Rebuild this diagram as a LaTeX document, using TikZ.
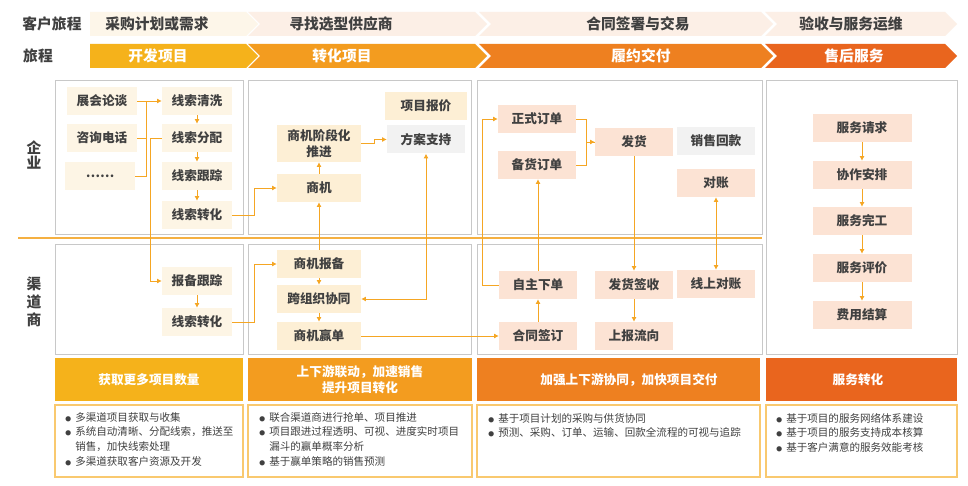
\documentclass[tikz,border=0pt]{standalone}
\usepackage{fontspec}
\setmainfont{Noto Sans CJK SC}
\usetikzlibrary{arrows.meta}
\definecolor{JText}{HTML}{404040}
\definecolor{JLine}{HTML}{F5A623}
\definecolor{JPanel}{HTML}{C8C8C8}
\definecolor{JPale}{HTML}{FDF6E9}
\definecolor{JPink}{HTML}{FCEFE6}
\definecolor{JYellow}{HTML}{F5B21B}
\definecolor{JAmber}{HTML}{F39C1F}
\definecolor{JOrange}{HTML}{EE8020}
\definecolor{JRed}{HTML}{E9651E}
\definecolor{JCream}{HTML}{FDF5E5}
\definecolor{JSand}{HTML}{FDEFD5}
\definecolor{JPeach}{HTML}{FCE3D4}
\definecolor{JGrey}{HTML}{F2F2F2}
\definecolor{JFrame}{HTML}{F9C96F}
\definecolor{JRule}{HTML}{F5B041}

\tikzset{
  lbl/.style={font=\fontsize{9}{11}\selectfont\bfseries,text=JText,inner sep=0pt,minimum height=7mm,align=center},
  leadbox/.style={lbl,fill=JCream,minimum width=17.5mm},
  dealbox/.style={lbl,fill=JSand,minimum width=21mm},
  orderbox/.style={lbl,fill=JPeach,minimum width=19.5mm},
  servbox/.style={lbl,fill=JPeach,minimum width=24.75mm},
  panel/.style={draw=JPanel,line width=0.6pt},
  link/.style={draw=JLine,line width=0.5pt},
  flow/.style={link,-{Latex[length=3.2pt,width=3.4pt]}},
  twoway/.style={link,{Latex[length=3.2pt,width=3.4pt]}-{Latex[length=3.2pt,width=3.4pt]}},
  head/.style={font=\fontsize{10.5}{12}\selectfont\bfseries,text=JText,inner sep=0pt},
  stage/.style={font=\fontsize{10.5}{12}\selectfont\bfseries,text=white,inner sep=0pt},
  goal/.style={font=\fontsize{9}{11.5}\selectfont\bfseries,text=white,inner sep=0pt,align=center},
  notes/.style={font=\fontsize{7.5}{10.4}\selectfont,text=JText,inner sep=0pt,anchor=north west,align=left},
}
\newcommand\bul{\makebox[0.95em][l]{\scalebox{0.55}{●}}}
\newcommand\ind{\hspace*{0.95em}}

\begin{document}
\begin{tikzpicture}[x=0.25mm,y=-0.25mm]
\path[use as bounding box,fill=white] (0,0) rectangle (968,486);
% journey bands
\fill[JPale] (90,12) -- (246,12) -- (258,24) -- (246,36) -- (90,36) -- cycle;
\fill[JPink] (248,12) -- (475,12) -- (487,24) -- (475,36) -- (248,36) -- (260,24) -- cycle;
\fill[JPink] (479,12) -- (761,12) -- (773,24) -- (761,36) -- (479,36) -- (491,24) -- cycle;
\fill[JPink] (765,12) -- (945,12) -- (957,24) -- (945,36) -- (765,36) -- (777,24) -- cycle;
\fill[JYellow] (90,44) -- (246,44) -- (258,56) -- (246,68) -- (90,68) -- cycle;
\fill[JAmber] (248,44) -- (475,44) -- (487,56) -- (475,68) -- (248,68) -- (260,56) -- cycle;
\fill[JOrange] (479,44) -- (761,44) -- (773,56) -- (761,68) -- (479,68) -- (491,56) -- cycle;
\fill[JRed] (765,44) -- (945,44) -- (957,56) -- (945,68) -- (765,68) -- (777,56) -- cycle;
\node[head] (khlc) at (52,24) {客户旅程};
\node[head] (lc) at (38,56) {旅程};
\node[head] (cg) at (157,24) {采购计划或需求};
\node[head] (xz) at (341,24) {寻找选型供应商};
\node[head] (ht) at (638,24) {合同签署与交易};
\node[head] (ys) at (851,24) {验收与服务运维};
\node[stage] (kf) at (158,56) {开发项目};
\node[stage] (zh) at (342,56) {转化项目};
\node[stage] (ly) at (641,56) {履约交付};
\node[stage] (sh) at (854,56) {售后服务};

% panels
\draw[panel] (55,80) rectangle (243,234);
\draw[panel] (248,80) rectangle (471,234);
\draw[panel] (477,80) rectangle (762,234);
\draw[panel] (55,244) rectangle (243,354);
\draw[panel] (248,244) rectangle (471,354);
\draw[panel] (477,244) rectangle (762,354);
\draw[panel] (766,80) rectangle (957,354);
\draw[JRule,line width=0.8pt] (18,238) -- (762,238);
\node[head,align=center,font=\fontsize{10.5}{10}\selectfont\bfseries] (qy) at (34,155) {企\\业};
\node[head,align=center,font=\fontsize{10.5}{12.8}\selectfont\bfseries] (qds) at (34,302) {渠\\道\\商};

% enterprise
\node[leadbox] (zhlt) at (102,101) {展会论谈};
\node[leadbox] (zxdh) at (102,138) {咨询电话};
\node[leadbox] (dots) at (100,176) {……};
\node[leadbox] (xsqx) at (197,101) {线索清洗};
\node[leadbox] (xsfp) at (197,138) {线索分配};
\node[leadbox] (xsgz) at (197,176) {线索跟踪};
\node[leadbox] (xszh) at (197,215) {线索转化};
\node[dealbox,minimum height=9.25mm] (sjjd) at (319,143.5) {商机阶段化\\推进};
\node[dealbox] (sj) at (319,188) {商机};
\node[dealbox,minimum width=20.5mm] (xmbj) at (426,106) {项目报价};
\node[lbl,fill=JGrey,minimum width=19.5mm] (fazc) at (426,139.5) {方案支持};
\node[orderbox] (zsdd) at (537,119) {正式订单};
\node[orderbox] (bhdd) at (537,165) {备货订单};
\node[orderbox] (fh) at (634,142) {发货};
\node[lbl,fill=JGrey,minimum width=19.5mm] (xshk) at (716,141) {销售回款};
\node[orderbox] (dz) at (716,183) {对账};

% channel
\node[leadbox] (bbgz) at (197,281) {报备跟踪};
\node[leadbox] (qxszh) at (197,322) {线索转化};
\node[dealbox] (sjbb) at (319,264) {商机报备};
\node[dealbox] (kzz) at (319,299) {跨组织协同};
\node[dealbox] (sjyd) at (319,336) {商机赢单};
\node[orderbox] (zzxd) at (538,285) {自主下单};
\node[orderbox] (htqd) at (538,336) {合同签订};
\node[orderbox] (fhqs) at (634,285) {发货签收};
\node[orderbox] (sblx) at (634,336) {上报流向};
\node[orderbox] (xsdz) at (716,284) {线上对账};

% service
\node[servbox] (fwqq) at (862,128) {服务请求};
\node[servbox] (xzap) at (862,175) {协作安排};
\node[servbox] (fwwg) at (862,221) {服务完工};
\node[servbox] (fwpj) at (862,268) {服务评价};
\node[servbox] (fyjs) at (862,315) {费用结算};

% connectors
\coordinate (bus) at (146,101);
\draw[flow] (zhlt) -- (xsqx);
\draw[link] (zxdh.east) -| (bus);
\draw[link] (dots.east) -| (bus);
\draw[flow] (xsqx) -- (xsfp);
\draw[flow] (xsfp) -- (xsgz);
\draw[flow] (xsgz) -- (xszh);
\draw[flow] (xsfp.west) -- ++(-11,0) |- (bbgz.west);
\draw[flow] (bbgz) -- (qxszh);
\draw[flow] (xszh.east) -- ++(22,0) |- (sj.west);
\draw[flow] (qxszh.east) -- ++(22,0) |- (sjbb.west);
\draw[flow] (sjbb) -- (sj);
\draw[flow] (sj) -- (sjjd);
\draw[flow] (sjjd.east) -- ++(13,0) |- (fazc.west);
\draw[twoway] (kzz.east) -| (fazc.south);
\draw[flow] (sjbb) -- (kzz);
\draw[flow] (kzz) -- (sjyd);
\draw[flow] (sjyd) -- (htqd);
\draw[flow] (htqd) -- (zzxd);
\draw[flow] (zzxd.west) -- ++(-16,0) |- (zsdd.west);
\draw[flow] (zzxd.north) -- (zzxd.north |- bhdd.south);
\draw[link] (bhdd.east) -- ++(10,0) |- (fh.west);
\draw[flow] (zsdd.east) -- ++(10,0) |- (fh.west);
\draw[flow] (fh.south) -- (fh.south |- fhqs.north);
\draw[flow] (fhqs) -- (sblx);
\draw[twoway] (dz) -- (xsdz);
\draw[flow] (fwqq) -- (xzap);
\draw[flow] (xzap) -- (fwwg);
\draw[flow] (fwwg) -- (fwpj);
\draw[flow] (fwpj) -- (fyjs);

% goals
\fill[JYellow] (55,358) rectangle (243,401);
\fill[JAmber] (248,358) rectangle (472,401);
\fill[JOrange] (477,358) rectangle (760,401);
\fill[JRed] (766,358) rectangle (957,401);
\node[goal] (g1) at (149,380) {获取更多项目数量};
\node[goal] (g2) at (360,380) {上下游联动，加速销售\\提升项目转化};
\node[goal] (g3) at (629,380) {加强上下游协同，加快项目交付};
\node[goal] (g4) at (858,380) {服务转化};
\draw[JFrame,line width=0.8pt] (55,405) rectangle (243,477);
\draw[JFrame,line width=0.8pt] (248,405) rectangle (472,477);
\draw[JFrame,line width=0.8pt] (477,405) rectangle (760,477);
\draw[JFrame,line width=0.8pt] (766,405) rectangle (957,477);
\node[notes] (n1) at (65,412) {\bul 多渠道项目获取与收集\\\bul 系统自动清晰、分配线索，推送至\\\ind 销售，加快线索处理\\\bul 多渠道获取客户资源及开发};
\node[notes] (n2) at (259,412) {\bul 联合渠道商进行抢单、项目推进\\\bul 项目跟进过程透明、可视、进度实时项目\\\ind 漏斗的赢单概率分析\\\bul 基于赢单策略的销售预测};
\node[notes] (n3) at (488,413) {\bul 基于项目计划的采购与供货协同\\\bul 预测、采购、订单、运输、回款全流程的可视与追踪};
\node[notes] (n4) at (776,413) {\bul 基于项目的服务网络体系建设\\\bul 基于项目的服务支持成本核算\\\bul 基于客户满意的服务效能考核};
\end{tikzpicture}
\end{document}
